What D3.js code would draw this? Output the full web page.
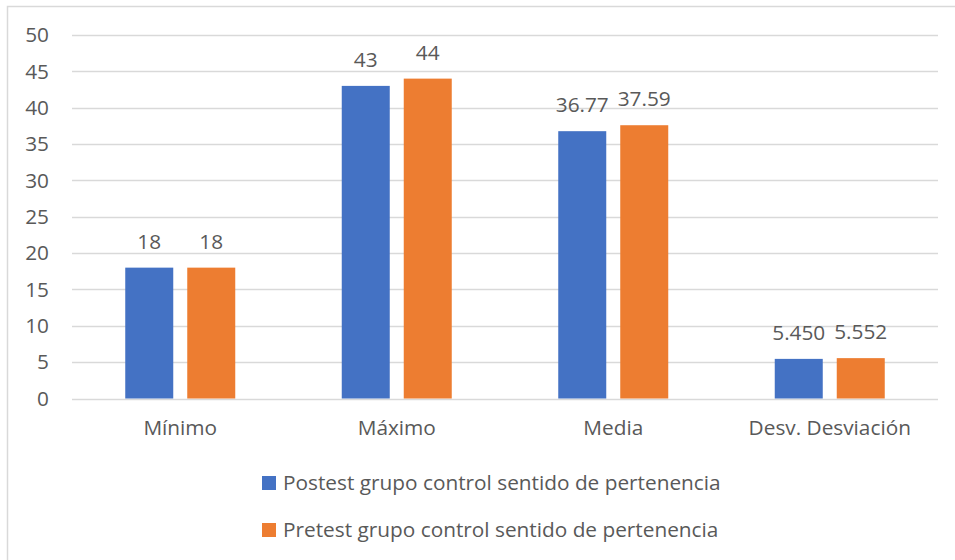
<!DOCTYPE html>
<html>
<head>
<meta charset="utf-8">
<title>Sentido de pertenencia</title>
<style>
    body { margin: 0; background: #fff; }
    svg text { font-family: "Open Sans", sans-serif; fill: #595959; }
</style>
</head>
<body>
<svg width="955" height="560"></svg>
<script src="https://d3js.org/d3.v7.min.js"></script>
<script>
    // data
    const categories = ["Mínimo", "Máximo", "Media", "Desv. Desviación"];
    const seriesNames = ["Postest grupo control sentido de pertenencia", "Pretest grupo control sentido de pertenencia"];
    const postest = [18, 43, 36.77, 5.450];
    const pretest = [18, 44, 37.59, 5.552];
    const postestLabels = ["18", "43", "36.77", "5.450"];
    const pretestLabels = ["18", "44", "37.59", "5.552"];
    const yTicks = [0, 5, 10, 15, 20, 25, 30, 35, 40, 45, 50];
    const colors = ["#4472C4", "#ED7D31"];

    const svg = d3.select("svg");
    const fontSize = 20.8;

    // outer chart frame (right/bottom edges fall outside the picture)
    svg.append("rect")
        .attr("x", 7.5).attr("y", 6.5)
        .attr("width", 1000).attr("height", 1000)
        .attr("fill", "none")
        .attr("stroke", "#D9D9D9")
        .attr("stroke-width", 1.5);

    const plotLeft = 72, plotRight = 938, plotTop = 35, plotBottom = 398.5;

    const x0 = d3.scaleBand().domain(categories).range([plotLeft, plotRight]);
    const cw = x0.bandwidth();
    const x1 = d3.scaleBand().domain([0, 1])
        .range([cw / 2 - 55, cw / 2 + 55])
        .paddingInner(0.2258);
    const y = d3.scaleLinear().domain([0, 50]).range([plotBottom, plotTop]);

    // gridlines
    svg.append("g")
        .selectAll("line")
        .data(yTicks)
        .join("line")
        .attr("x1", plotLeft).attr("x2", plotRight)
        .attr("y1", d => Math.round(y(d)) + 0.5)
        .attr("y2", d => Math.round(y(d)) + 0.5)
        .attr("stroke", "#D9D9D9")
        .attr("stroke-width", 1.5);

    // y axis labels
    const yAxis = svg.append("g")
        .attr("transform", "translate(" + (plotLeft - 9) + ",0)")
        .call(d3.axisLeft(y).tickValues(yTicks).tickSize(0).tickPadding(14));
    yAxis.select(".domain").remove();
    yAxis.selectAll("text")
        .attr("font-family", "Open Sans")
        .attr("font-size", fontSize)
        .style("fill", "#595959");

    // x axis labels
    const xAxis = svg.append("g")
        .attr("transform", "translate(0," + plotBottom + ")")
        .call(d3.axisBottom(x0).tickSize(0).tickPadding(22));
    xAxis.select(".domain").remove();
    xAxis.selectAll("text")
        .attr("font-family", "Open Sans")
        .attr("font-size", fontSize)
        .style("fill", "#595959");

    const series = [
        {values: postest, labels: postestLabels},
        {values: pretest, labels: pretestLabels}
    ];

    series.forEach(function(s, si) {
        const g = svg.append("g");
        g.selectAll("rect")
            .data(categories)
            .join("rect")
            .attr("x", d => x0(d) + x1(si))
            .attr("width", x1.bandwidth())
            .attr("y", (d, i) => y(s.values[i]))
            .attr("height", (d, i) => plotBottom - y(s.values[i]))
            .attr("fill", colors[si]);

        g.selectAll("text")
            .data(categories)
            .join("text")
            .attr("x", d => x0(d) + x1(si) + x1.bandwidth() / 2)
            .attr("y", (d, i) => y(s.values[i]) - 19)
            .attr("text-anchor", "middle")
            .attr("font-size", fontSize)
            .text((d, i) => s.labels[i]);
    });

    // legend
    const legend = svg.append("g");
    seriesNames.forEach(function(name, i) {
        const ly = 483 + i * 47;
        legend.append("rect")
            .attr("x", 262).attr("y", ly - 7)
            .attr("width", 14).attr("height", 14)
            .attr("fill", colors[i]);
        legend.append("text")
            .attr("x", 283).attr("y", ly + 7)
            .attr("font-size", fontSize)
            .text(name);
    });
</script>
</body>
</html>
